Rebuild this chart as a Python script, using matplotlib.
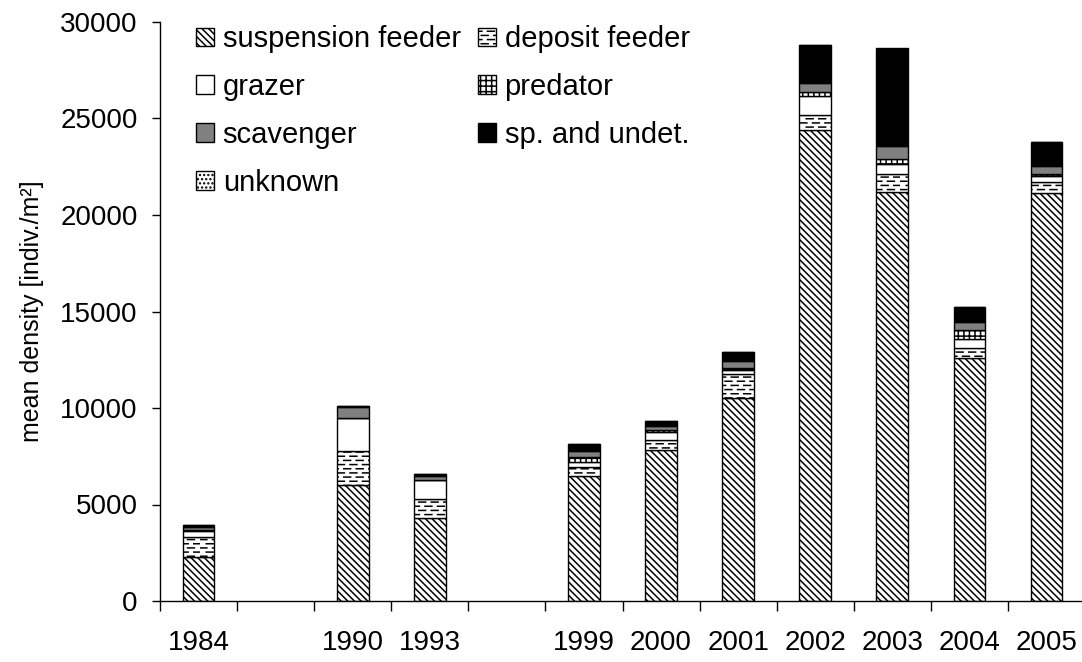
import matplotlib.pyplot as plt
import matplotlib.hatch as mhatch
from matplotlib.path import Path
import numpy as np

plt.rcParams['font.family'] = ['Liberation Sans', 'DejaVu Sans']
plt.rcParams['hatch.color'] = '#333333'
plt.rcParams['hatch.linewidth'] = 1.1


# '-' hatch drawn as short staggered dashes (like the original deposit feeder fill)
class DashHatch(mhatch.HatchPatternBase):
    dashes_per_row = 8

    def __init__(self, hatch, density):
        self.num_lines = int(hatch.count('-') * density)
        self.num_vertices = self.num_lines * self.dashes_per_row * 2

    def set_vertices_and_codes(self, vertices, codes):
        rows = np.linspace(0.0, 1.0, self.num_lines, endpoint=False)
        rows += 0.5 / max(self.num_lines, 1)
        period = 1.0 / self.dashes_per_row
        i = 0
        for r, yy in enumerate(rows):
            shift = 0.5 * period * (r % 2)
            for d in range(self.dashes_per_row):
                x0 = (d * period + shift) % 1.0
                vertices[i] = (x0, yy)
                vertices[i + 1] = (x0 + 0.55 * period, yy)
                codes[i] = Path.MOVETO
                codes[i + 1] = Path.LINETO
                i += 2


class PlusHorizontalHatch(mhatch.HorizontalHatch):
    def __init__(self, hatch, density):
        self.num_lines = int(hatch.count('+') * density)
        self.num_vertices = self.num_lines * 2


mhatch._hatch_types[mhatch._hatch_types.index(mhatch.HorizontalHatch)] = PlusHorizontalHatch
mhatch._hatch_types.append(DashHatch)

# Slots along the x axis ('' = empty year slot)
years = ['1984', '', '1990', '1993', '', '1999', '2000', '2001', '2002', '2003', '2004', '2005']

# Mean density per feeding type (indiv./m2), 0 for empty slots
suspension = [2300, 0, 6000, 4300, 0, 6500, 7800, 10500, 24400, 21200, 12600, 21150]
deposit    = [1000, 0, 1770, 1000, 0, 450, 550, 1250, 800, 950, 490, 550]
grazer     = [350, 0, 1700, 950, 0, 250, 400, 200, 950, 500, 500, 300]
predator   = [50, 0, 30, 0, 0, 260, 100, 130, 230, 230, 470, 120]
scavenger  = [150, 0, 550, 250, 0, 310, 200, 380, 470, 700, 380, 400]
sp_undet   = [100, 0, 60, 100, 0, 360, 260, 450, 1950, 5000, 780, 1250]
unknown    = [0, 0, 0, 0, 0, 20, 0, 0, 0, 50, 0, 0]

series = [
    ('suspension feeder', suspension, 'white', '\\\\\\\\\\'),
    ('deposit feeder', deposit, 'white', '----'),
    ('grazer', grazer, 'white', None),
    ('predator', predator, 'white', '+++'),
    ('scavenger', scavenger, '#808080', None),
    ('sp. and undet.', sp_undet, 'black', None),
    ('unknown', unknown, 'white', '....'),
]

fig = plt.figure(figsize=(10.82, 6.62), dpi=100)
ax = fig.add_axes([160 / 1082, 61 / 662, 925 / 1082, 579 / 662])

x = np.arange(len(years))
filled = np.array([y != '' for y in years])
bottom = np.zeros(len(years))
handles = {}
for name, vals, color, hatch in series:
    vals = np.array(vals, dtype=float)
    bars = ax.bar(x[filled], vals[filled], bottom=bottom[filled], width=0.41,
                  color=color, edgecolor='black', linewidth=1.0, hatch=hatch,
                  label=name)
    handles[name] = bars
    bottom += vals

ax.set_xlim(-0.5, len(years) - 0.5)
ax.set_ylim(0, 30000)
ax.set_yticks(np.arange(0, 30001, 5000))
ax.set_xticks(x[filled])
ax.set_xticklabels([y for y in years if y])
ax.set_xticks(np.arange(-0.5, len(years), 1.0), minor=True)
ax.tick_params(axis='x', which='major', length=0, pad=21, labelsize=20)
ax.tick_params(axis='x', which='minor', length=7, width=1, direction='out')
ax.tick_params(axis='y', length=6, width=1, direction='out', pad=10, labelsize=20)

for side in ['top', 'right']:
    ax.spines[side].set_visible(False)
ax.spines['left'].set_linewidth(1)
ax.spines['bottom'].set_linewidth(1)

ax.set_ylabel('mean density [indiv./m²]', fontsize=18, labelpad=12)

# legend is filled row by row in the original: reorder for column-wise filling
order = ['suspension feeder', 'grazer', 'scavenger', 'unknown',
         'deposit feeder', 'predator', 'sp. and undet.']
ax.legend([handles[n] for n in order], order, ncol=2, loc='upper left',
          bbox_to_anchor=(0.011, 1.04), frameon=False, fontsize=21,
          handlelength=0.6, handleheight=0.6, handletextpad=0.3,
          labelspacing=0.68, columnspacing=0.6)

fig.savefig('out.png', dpi=100)
